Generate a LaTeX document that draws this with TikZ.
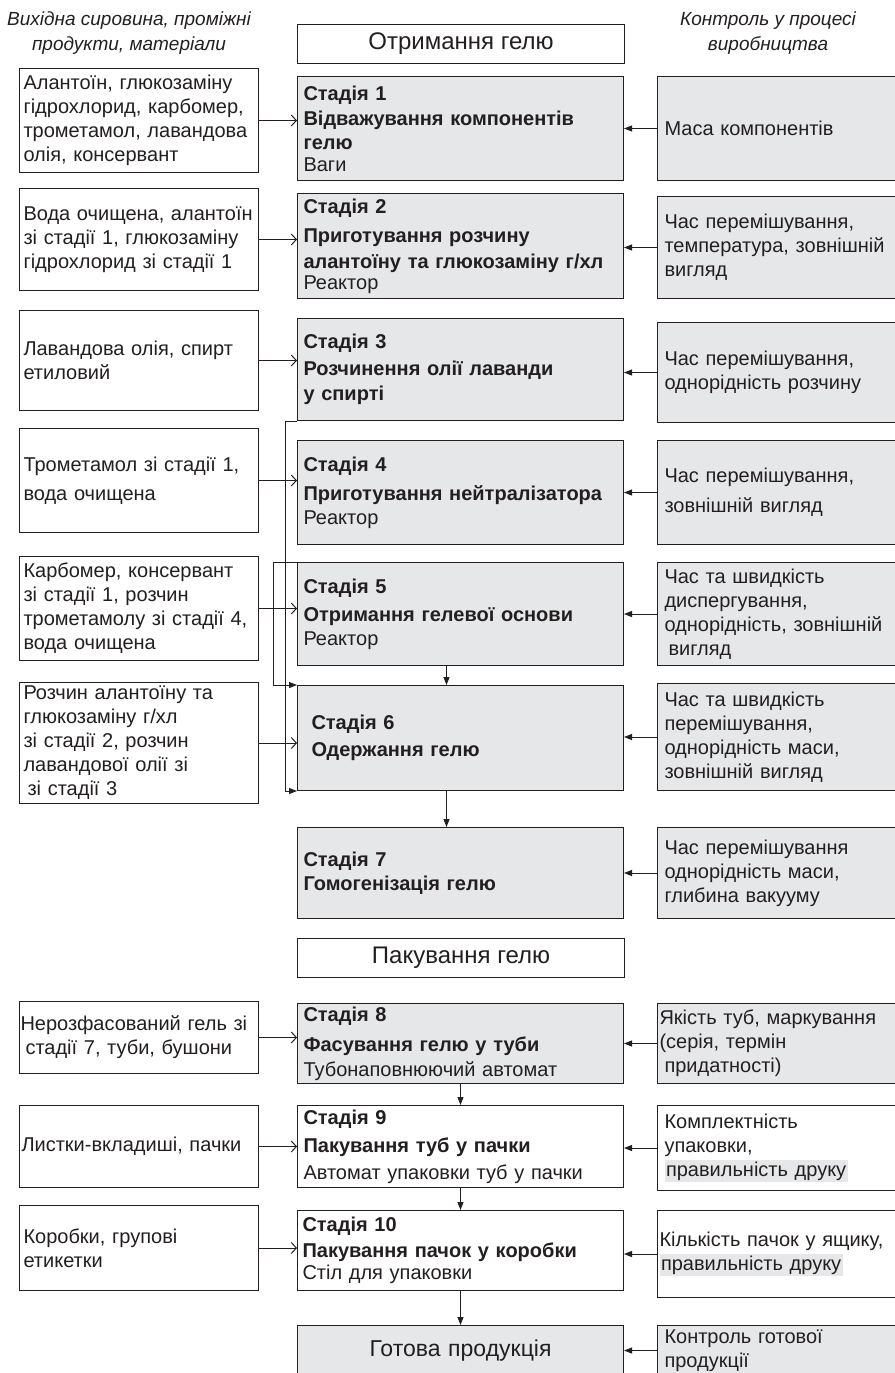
\documentclass[tikz,border=0pt]{standalone}
\usepackage{fontspec}
\setmainfont{Liberation Sans}
\usepackage{tikz}
\usetikzlibrary{calc}
\usetikzlibrary{arrows.meta}
\definecolor{stagegray}{HTML}{E6E7E8}
\definecolor{inkgray}{HTML}{231F20}
\newcommand{\hlprint}[1]{{\setlength{\fboxsep}{1.5pt}\colorbox{stagegray}{#1}}}
\tikzset{
   boxbase/.style={draw=inkgray, line width=1pt, anchor=north west, align=left,
      inner ysep=2pt, text=inkgray, font=\fontsize{20}{24}\selectfont},
   inbox/.style={boxbase, fill=white, minimum width=239pt, text width=231pt, inner xsep=4pt},
   stagebox/.style={boxbase, fill=stagegray, minimum width=326pt, text width=314pt, inner xsep=6pt},
   stagewhite/.style={stagebox, fill=white},
   ctrlbox/.style={boxbase, fill=stagegray, minimum width=238pt, text width=224pt, inner xsep=7pt},
   ctrlwhite/.style={ctrlbox, fill=white},
   titlebox/.style={draw=inkgray, line width=1pt, anchor=north west, fill=white,
      minimum width=327pt, minimum height=39pt, text=inkgray, font=\fontsize{24}{28}\selectfont},
   headtext/.style={align=center, text=inkgray, font=\fontsize{19}{25}\selectfont\itshape},
   inflow/.style={draw=inkgray, line width=1pt, -{Straight Barb[length=5pt,width=11pt]}},
   ctrlflow/.style={draw=inkgray, line width=1pt, -{Triangle[length=8pt,width=6pt]}},
   }

\begin{document}
\begin{tikzpicture}[x=1pt,y=-1pt]
   \useasboundingbox (0,0) rectangle (894,1373);
   % headers
   \node[headtext] (hin) at (129,33) {Вихідна сировина, проміжні\\продукти, матеріали};
   \node[headtext] (hctrl) at (768,33) {Контроль у процесі\\виробництва};
   \node[titlebox] (t1) at (297,24) {Отримання гелю};

   % stage 1
   \node[inbox, minimum height=104pt] (l1) at (19,68) {Алантоїн, глюкозаміну\\гідрохлорид, карбомер,\\трометамол, лавандова\\олія, консервант};
   \node[stagebox, minimum height=104pt] (s1) at (297,76) {\textbf{Стадія 1}\\[1pt]\textbf{Відважування компонентів}\\\textbf{гелю}\\[-2pt]Ваги};
   \node[ctrlbox, minimum height=104pt] (c1) at (657,76) {Маса компонентів};
   % stage 2
   \node[inbox, minimum height=102pt] (l2) at (19,188) {Вода очищена, алантоїн\\зі стадії 1, глюкозаміну\\гідрохлорид зі стадії 1\\[-8pt]};
   \node[stagebox, minimum height=105pt] (s2) at (297,193) {\textbf{Стадія 2}\\[5pt]\textbf{Приготування розчину}\\[2pt]\textbf{алантоїну та глюкозаміну г/хл}\\[-3pt]Реактор};
   \node[ctrlbox, minimum height=102pt] (c2) at (657,196) {Час перемішування,\\температура, зовнішній\\вигляд};
   % stage 3
   \node[inbox, minimum height=100pt] (l3) at (19,310) {Лавандова олія, спирт\\етиловий};
   \node[stagebox, minimum height=102pt] (s3) at (297,318) {\textbf{Стадія 3}\\[3pt]\textbf{Розчинення олії лаванди}\\[1pt]\textbf{у спирті}\\[4pt]};
   \node[ctrlbox, minimum height=100pt] (c3) at (657,322) {Час перемішування,\\однорідність розчину};
   % stage 4
   \node[inbox, minimum height=104pt] (l4) at (19,428) {Трометамол зі стадії 1,\\[5pt]вода очищена};
   \node[stagebox, minimum height=104pt] (s4) at (297,440) {\textbf{Стадія 4}\\[5pt]\textbf{Приготування нейтралізатора}\\Реактор};
   \node[ctrlbox, minimum height=104pt] (c4) at (657,440) {Час перемішування,\\[6pt]зовнішній вигляд};
   % stage 5
   \node[inbox, minimum height=104pt] (l5) at (19,556) {Карбомер, консервант\\зі стадії 1, розчин\\трометамолу зі стадії 4,\\вода очищена};
   \node[stagebox, minimum height=103pt] (s5) at (297,562) {\textbf{Стадія 5}\\[4pt]\textbf{Отримання гелевої основи}\\Реактор};
   \node[ctrlbox, minimum height=103pt] (c5) at (657,562) {Час та швидкість\\диспергування,\\однорідність, зовнішній\\\hspace*{4pt}вигляд};
   % stage 6
   \node[inbox, minimum height=121pt] (l6) at (19,682) {Розчин алантоїну та\\глюкозаміну г/хл\\зі стадії 2, розчин\\лавандової олії зі\\\hspace*{4pt}зі стадії 3};
   \node[stagebox, minimum height=105pt, inner xsep=14pt, text width=298pt] (s6) at (297,685) {\textbf{Стадія 6}\\[3pt]\textbf{Одержання гелю}\\[10pt]};
   \node[ctrlbox, minimum height=107pt] (c6) at (657,683) {Час та швидкість\\перемішування,\\однорідність маси,\\зовнішній вигляд};
   % stage 7
   \node[stagebox, minimum height=91pt] (s7) at (297,827) {\textbf{Стадія 7}\\\textbf{Гомогенізація гелю}\\[2pt]};
   \node[ctrlbox, minimum height=91pt] (c7) at (657,827) {Час перемішування\\однорідність маси,\\глибина вакууму};

   \node[titlebox] (t2) at (297,938) {Пакування гелю};

   % stage 8
   \node[inbox, minimum height=72pt, inner xsep=1pt, text width=237pt] (l8) at (19,1001) {Нерозфасований гель зі\\\hspace*{5pt}стадії 7, туби, бушони};
   \node[stagebox, minimum height=80pt] (s8) at (297,1003) {\textbf{Стадія 8}\\[6pt]\textbf{Фасування гелю у туби}\\[1pt]Тубонаповнюючий автомат};
   \node[ctrlbox, minimum height=80pt, inner xsep=2pt, text width=234pt] (c8) at (657,1003) {Якість туб, маркування\\(серія, термін\\\hspace*{5pt}придатності)};
   % stage 9
   \node[inbox, minimum height=82pt, inner xsep=2pt, text width=235pt] (l9) at (19,1105) {Листки-вкладиші, пачки};
   \node[stagewhite, minimum height=82pt] (s9) at (297,1105) {\textbf{Стадія 9}\\[4pt]\textbf{Пакування туб у пачки}\\[3pt]Автомат упаковки туб у пачки};
   \node[ctrlwhite, minimum height=85pt] (c9) at (657,1105) {Комплектність\\упаковки,\\\hlprint{правильність друку}};
   % stage 10
   \node[inbox, minimum height=85pt] (l10) at (19,1205) {Коробки, групові\\етикетки};
   \node[stagewhite, minimum height=80pt, inner xsep=5pt, text width=316pt] (s10) at (297,1210) {\textbf{Стадія 10}\\[2pt]\textbf{Пакування пачок у коробки}\\[-2pt]Стіл для упаковки};
   \node[ctrlwhite, minimum height=87pt, inner xsep=2pt, text width=234pt] (c10) at (657,1210) {Кількість пачок у ящику,\\\hlprint{правильність друку}};
   % final
   \node[stagebox, minimum height=50pt, align=center, font=\fontsize{23}{27}\selectfont] (sf) at (297,1325) {Готова продукція};
   \node[ctrlbox, minimum height=50pt] (cf) at (657,1325) {Контроль готової\\продукції};

   % inputs
   \foreach \n in {1,...,6,8,9,10}
      \draw[inflow](l\n.east)--(l\n.east -| s\n.west);
   % controls
   \foreach \n in {1,...,10,f}
      \draw[ctrlflow](c\n.west)--(c\n.west -| s\n.east);
   % flow down
   \draw[ctrlflow]([xshift=-14pt]s5.south)--([xshift=-14pt]s5.south |- s6.north);
   \draw[ctrlflow]([xshift=-14pt]s6.south)--([xshift=-14pt]s6.south |- s7.north);
   \draw[ctrlflow](s8.south)--(s9.north);
   \draw[ctrlflow](s9.south)--(s10.north);
   \draw[ctrlflow](s10.south)--(sf.north);
   % stages 3 and 5 into stage 6
   \draw[ctrlflow](s3.south west)--++(-12,0)|-(s6.south west);
   \draw[ctrlflow](s5.north west)--++(-24,0)|-(s6.north west);
\end{tikzpicture}
\end{document}
